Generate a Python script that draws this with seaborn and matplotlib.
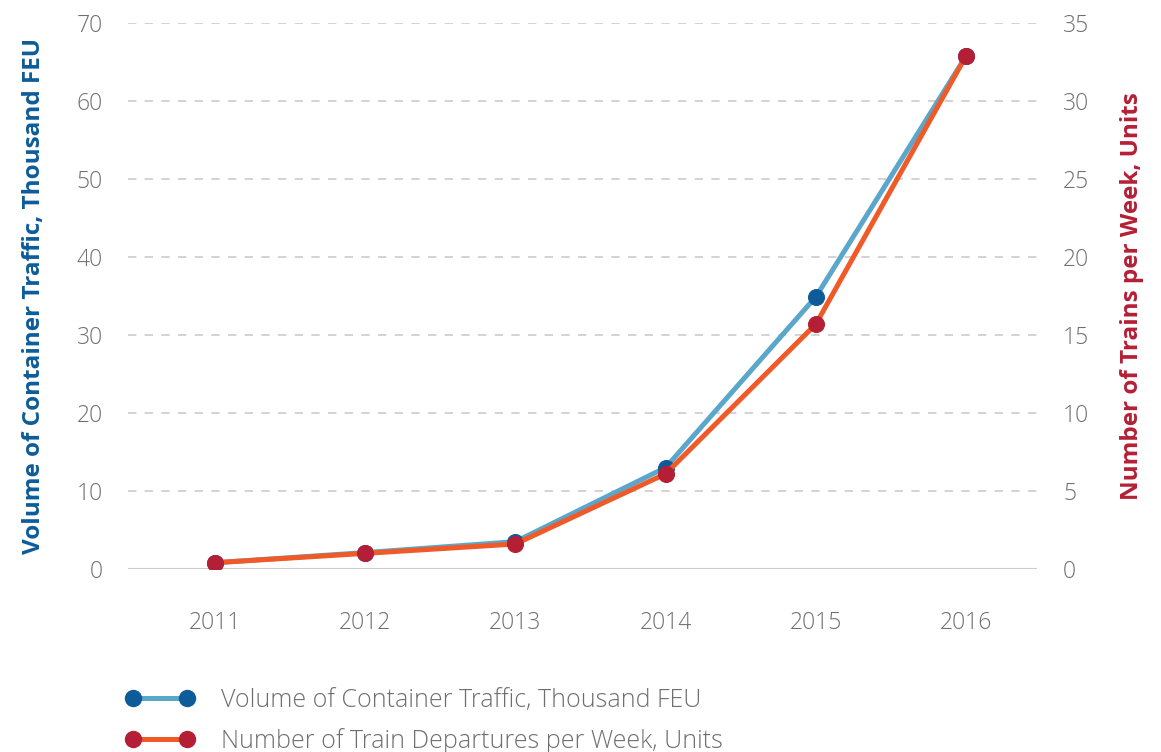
import pandas as pd
import matplotlib.pyplot as plt
import seaborn as sns
from matplotlib.lines import Line2D

# data
years = ["2011", "2012", "2013", "2014", "2015", "2016"]
traffic_feu = [0.8, 2.1, 3.5, 13.0, 34.9, 65.8]      # thousand FEU, left axis
trains_week = [0.4, 1.0, 1.6, 6.1, 15.7, 32.9]       # trains per week, right axis

traffic_label = "Volume of Container Traffic, Thousand FEU"
trains_label = "Number of Train Departures per Week, Units"

blue_line, blue_dot = "#5ba7cc", "#0d5c99"
orange_line, red_dot = "#f05a28", "#b51f35"
grey = "#6f6f6f"

sns.set_style("white")
plt.rcParams["font.family"] = ["Open Sans", "DejaVu Sans"]

df = pd.DataFrame({"year": years, "traffic": traffic_feu, "trains": trains_week})
df["x"] = range(len(years))

fig = plt.figure(figsize=(11.61, 7.52), dpi=100)
ax = fig.add_axes([0.110, 0.2434, 0.783, 0.7260])
ax2 = ax.twinx()

sns.lineplot(data=df, x="x", y="traffic", ax=ax, color=blue_line, linewidth=3.6,
             marker="o", markersize=11.5, markerfacecolor=blue_dot,
             markeredgecolor=blue_dot)
sns.lineplot(data=df, x="x", y="trains", ax=ax2, color=orange_line, linewidth=3.6,
             marker="o", markersize=11.5, markerfacecolor=red_dot,
             markeredgecolor=red_dot)

ax.set_xlim(-0.58, 5.47)
ax.set_ylim(0, 70)
ax2.set_ylim(0, 35)
ax.set_yticks(range(0, 71, 10))
ax2.set_yticks(range(0, 36, 5))
ax.set_xticks(df["x"])
ax.set_xticklabels(years)

# dashed grid, solid base line
for y in range(10, 71, 10):
    ax.axhline(y, color="#cccccc", linestyle=(0, (5, 5)), linewidth=1.2, zorder=0)
ax.axhline(0, color="#cccccc", linewidth=1.5, zorder=0)

for a in (ax, ax2):
    for s in a.spines.values():
        s.set_visible(False)
    a.grid(False)

tick_font = dict(labelsize=16.5, labelcolor=grey)
ax.tick_params(axis="x", length=16, width=1.5, color="#cccccc", pad=14, **tick_font)
ax.tick_params(axis="y", length=0, pad=18, **tick_font)
ax2.tick_params(axis="y", length=0, pad=19, **tick_font)
for lab in ax.get_xticklabels() + ax.get_yticklabels() + ax2.get_yticklabels():
    lab.set_fontweight("light")

ax.set_xlabel("")
ax.set_ylabel("Volume of Container Traffic, Thousand FEU", color=blue_dot,
              fontsize=17.5, fontweight="bold", labelpad=22)
ax2.set_ylabel("Number of Trains per Week, Units", color=red_dot,
               fontsize=17.5, fontweight="bold", labelpad=22)

handles = [
    Line2D([], [], color=blue_line, linewidth=3.6, marker="o", markersize=11.5,
           markerfacecolor=blue_dot, markeredgecolor=blue_dot),
    Line2D([], [], color=orange_line, linewidth=3.6, marker="o", markersize=11.5,
           markerfacecolor=red_dot, markeredgecolor=red_dot),
]
leg = fig.legend(handles, [traffic_label, trains_label], loc="upper left",
                 bbox_to_anchor=(0.089, 0.115), bbox_transform=fig.transFigure,
                 frameon=False, numpoints=2, handlelength=2.75, handletextpad=1.05,
                 labelspacing=0.6, labelcolor=grey,
                 prop={"weight": "light", "size": 18})

fig.savefig("out.png", dpi=100)
